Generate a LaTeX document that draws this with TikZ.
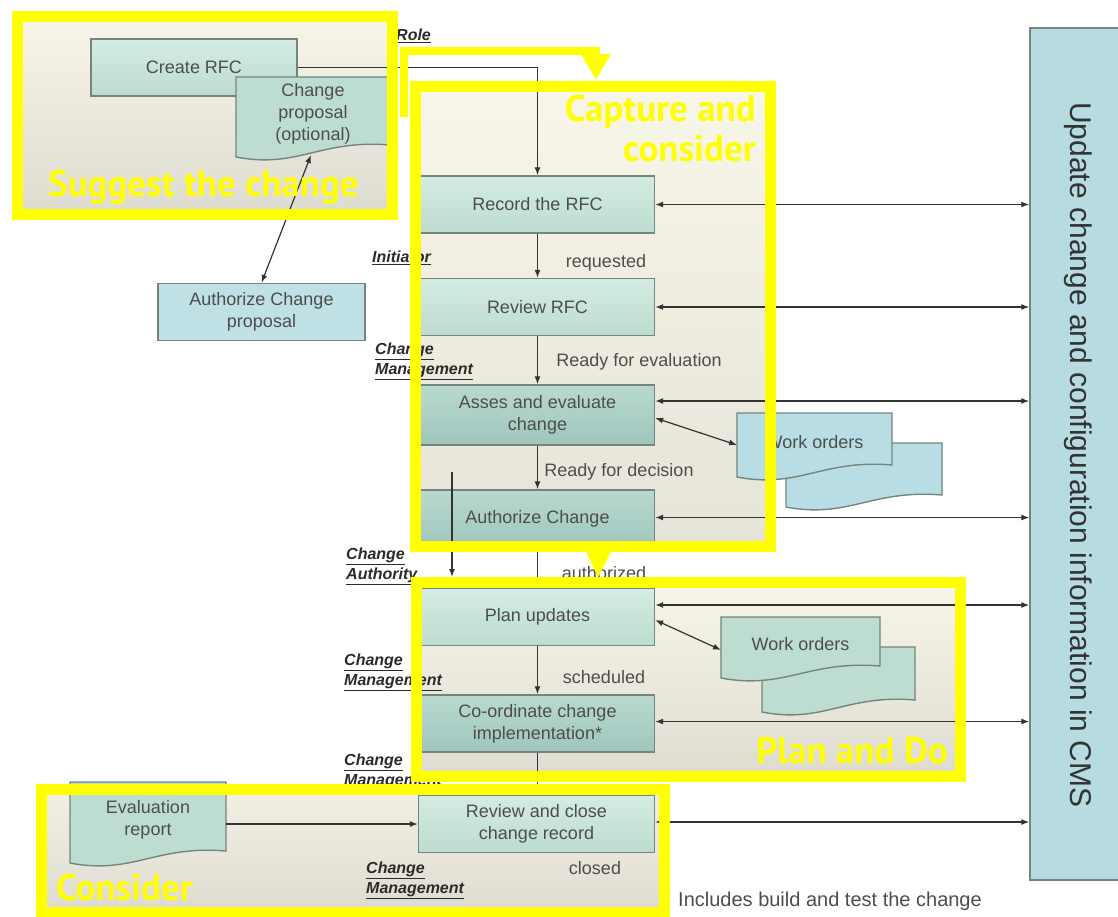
\documentclass[tikz,border=0pt]{standalone}
\usepackage{fontspec}
\setmainfont{Liberation Sans}
\newfontfamily\lanefont{PT Sans}
\usepackage{tikz}
\usetikzlibrary{arrows.meta}
\usetikzlibrary{calc}
\usetikzlibrary{positioning}

\definecolor{laneyellow}{HTML}{FFFF00}
\definecolor{lanetop}{HTML}{F8F6E8}
\definecolor{lanebot}{HTML}{DEDBD1}
\definecolor{boxtop}{HTML}{D4ECE2}
\definecolor{boxbot}{HTML}{BCDCCF}
\definecolor{darktop}{HTML}{B9D9D0}
\definecolor{darkbot}{HTML}{9FC6BC}
\definecolor{bluebox}{HTML}{BFE1E6}
\definecolor{docblue}{HTML}{B9DDE4}
\definecolor{boxgreen}{HTML}{BEDDD1}
\definecolor{boxline}{HTML}{74847E}
\definecolor{cmsfill}{HTML}{B6DCE2}
\definecolor{textgray}{HTML}{4D4D4D}
\definecolor{rolegray}{HTML}{2B2B2B}
\definecolor{flowline}{HTML}{333333}

\newcommand{\docsheet}[7]{%
  \draw[docline, fill=#2] (#3,#5) -- (#4,#5) -- (#4,{#6-12})
    .. controls ({0.45*#3+0.55*#4},{#6-18}) and ({0.6*#3+0.4*#4},{#6+12}) .. (#3,#6) -- cycle;
  \node[doclabel] (#1) at ({0.5*#3+0.5*#4},{0.5*#5+0.5*#6-3}) {#7};}

\begin{document}
\begin{tikzpicture}[x=1pt, y=-1pt,
	every node/.style={text=textgray, font=\fontsize{18}{22}\selectfont, align=center},
	proc/.style={draw=boxline, line width=1.4pt, top color=boxtop, bottom color=boxbot, minimum width=234pt, minimum height=57pt},
	procdark/.style={proc, top color=darktop, bottom color=darkbot},
	procblue/.style={proc, top color=bluebox, bottom color=bluebox, minimum width=207pt},
	docline/.style={draw=boxline, line width=1.4pt},
	doclabel/.style={inner sep=0pt},
	state/.style={inner sep=0pt},
	rolelabel/.style={anchor=north west, align=left, inner sep=0pt, text=rolegray, font=\fontsize{16}{20}\selectfont\bfseries\itshape},
	flow/.style={draw=flowline, line width=1.2pt, -{Latex[length=8pt,width=6pt]}},
	both/.style={flow, {Latex[length=8pt,width=6pt]}-{Latex[length=8pt,width=6pt]}},
	cmsbox/.style={draw=boxline, line width=1.4pt, fill=cmsfill, minimum width=100pt, minimum height=852pt},
	laneframe/.style={draw=laneyellow, line width=11pt},
	lanetitle/.style={inner sep=0pt, text=laneyellow, font=\lanefont\bfseries\fontsize{37}{40}\selectfont}]
	\useasboundingbox (0,0) rectangle (1118,916);
	\shade[top color=lanetop, bottom color=lanebot] (17.5,16.5) rectangle (392,214);
	\shade[top color=lanetop, bottom color=lanebot!70!lanetop] (415.5,86.5) rectangle (770,546);
	\shade[top color=lanetop, bottom color=lanebot] (416.5,582.5) rectangle (960.5,776);
	\shade[top color=lanetop!80!lanebot, bottom color=lanebot] (41,789.5) rectangle (664,912);

	\node[proc, minimum width=206pt] (crfc) at (194,67.5) {Create RFC};
	\docsheet{cprop}{boxgreen}{236}{390}{77}{157}{Change\\proposal\\(optional)}
	\node[procblue] (acp) at (261.5,312) {Authorize Change\\proposal};
	\node[proc] (rrfc) at (537.5,204.5) {Record the RFC};
	\node[proc] (rvrfc) at (537.5,307) {Review RFC};
	\node[procdark, minimum height=60pt] (asses) at (537.5,415) {Asses and evaluate\\change};
	\node[procdark] (authc) at (537.5,518.5) {Authorize Change};
	\node[proc] (plan) at (537.5,617) {Plan updates};
	\node[procdark] (coord) at (537.5,723.5) {Co-ordinate change\\implementation*};
	\node[proc, minimum width=236pt] (rclose) at (536.5,824) {Review and close\\change record};
	\docsheet{wobackA}{docblue}{786}{942}{443}{507}{}
	\docsheet{woA}{docblue}{737}{892}{413}{477}{Work orders}
	\docsheet{wobackB}{boxgreen}{762}{915}{647}{712}{}
	\docsheet{woB}{boxgreen}{721}{880}{617}{678}{Work orders}
	\docsheet{evalr}{boxgreen}{70}{226}{782}{863}{Evaluation\\report}
	\node[cmsbox] (cms) at (1080,454) {};
	\node[rotate=-90, font=\fontsize{30}{36}\selectfont, text=black!80] (cmslabel) at (1078,455) {Update change and configuration information in CMS};

	\node[rolelabel] (role) at (396,29) {\underline{Role}};
	\node[rolelabel] (initiator) at (372,251) {\underline{Initiator}};
	\node[rolelabel] (cmA) at (375,343) {\underline{Change}\\\underline{Management}};
	\node[rolelabel] (cauth) at (346,548) {\underline{Change}\\\underline{Authority}};
	\node[rolelabel] (cmB) at (344,654) {\underline{Change}\\\underline{Management}};
	\node[rolelabel] (cmC) at (344,754) {\underline{Change}\\\underline{Management}};
	\node[rolelabel] (cmD) at (366,862) {\underline{Change}\\\underline{Management}};

	\node[state] (req) at (606,263) {requested};
	\node[state] (rfe) at (639,362) {Ready for evaluation};
	\node[state] (rfd) at (619,472) {Ready for decision};
	\node[state] (authd) at (604,573) {authorized};
	\node[state] (sched) at (604,677) {scheduled};
	\node[state] (closed) at (595,868) {closed};
	\node[state, font=\fontsize{20}{24}\selectfont] (note) at (830,901) {Includes build and test the change};

	\coordinate (cpfoot) at (311,155);
	\coordinate (woAin) at (737,445);
	\coordinate (woBin) at (721,650);
	\coordinate (erout) at (226,824);
	\coordinate (droptop) at (452,472);
	\coordinate (dropend) at (452,577);
	\draw[flow] (crfc.east) -| (rrfc.north);
	\draw[flow] (rrfc) -- (rvrfc);
	\draw[flow] (rvrfc) -- (asses);
	\draw[flow] (asses) -- (authc);
	\draw[flow] (authc) -- (plan);
	\draw[flow] (plan) -- (coord);
	\draw[flow] (coord.south) -- (coord.south |- rclose.north);
	\draw[flow] (droptop) -- (dropend);
	\draw[flow] (erout) -- (rclose.west);
	\draw[both] (cpfoot) -- (acp.north);
	\draw[both] ([yshift=-3pt]asses.east) -- (woAin);
	\draw[both] ([yshift=-3pt]plan.east) -- (woBin);
	\foreach \b/\s in {rrfc/0, rvrfc/0, asses/14, authc/1, plan/12, coord/2, rclose/2}
		\draw[both] ([yshift=\s pt]\b.east) coordinate (p) -- (p -| cms.west);

	\draw[laneframe] (17.5,16.5) rectangle (392,214);
	\draw[laneframe] (415.5,86.5) rectangle (770,546);
	\draw[laneframe] (416.5,582.5) rectangle (960.5,776);
	\draw[laneframe] (41,789.5) rectangle (664,912);
	\draw[laneframe, line width=8pt, -{Triangle[length=26pt,width=28pt]}] (404,117) -- (404,51) -- (596,51) -- (596,80);
	\fill[laneyellow] (585,550) -- (612,550) -- (598,577) -- cycle;
	\node[lanetitle, anchor=base west] (suggest) at (48,196) {Suggest the change};
	\node[lanetitle, align=right, anchor=north east] (capture) at (756,95) {Capture and\\consider};
	\node[lanetitle, anchor=base east] (plando) at (948,763) {Plan and Do};
	\node[lanetitle, anchor=base west] (consider) at (56,900) {Consider};
\end{tikzpicture}
\end{document}
